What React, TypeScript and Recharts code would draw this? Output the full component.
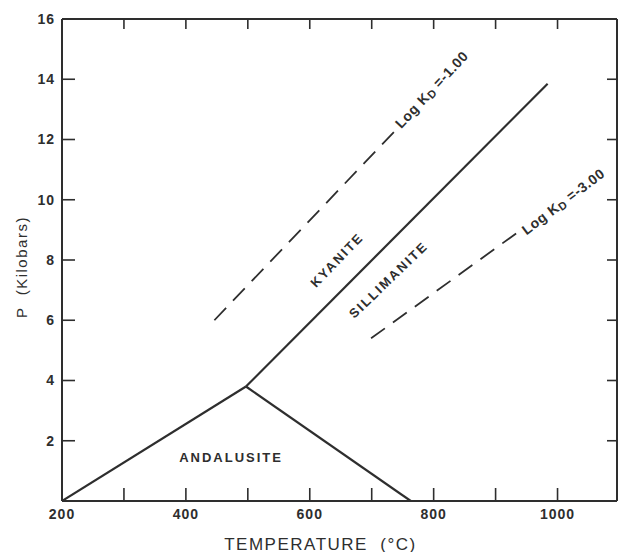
// Diagramme de phases Al2SiO5 (andalousite / disthène / sillimanite) avec isolignes Log KD.
import { LineChart, Line, XAxis, YAxis, ReferenceDot, Label } from 'recharts';

// Frontières des champs de stabilité : T en °C, P en kilobars
const andKyT = [200, 497];
const andKyP = [0, 3.8];
const andSilT = [497, 763];
const andSilP = [3.8, 0];
const kySilT = [497, 984];
const kySilP = [3.8, 13.85];

// Isolignes en tirets
const kd1T = [446, 736];
const kd1P = [6.0, 12.25];
const kd3T = [699, 941];
const kd3P = [5.4, 9.0];

// Axes
const xDomain = [200, 1096];
const bottomTicks = [200, 300, 400, 500, 600, 700, 800, 900, 1000];
const xLabelTicks = [200, 400, 600, 800, 1000];
const topTicks = [300, 400, 500, 600, 700, 800, 900, 1000];
const leftTicks = [2, 4, 6, 8, 10, 12, 14, 16];
const rightTicks = [2, 4, 6, 8, 10, 12, 14];

// Étiquettes de champs et d'isolignes (coordonnées T / P)
const fieldNames = ['KYANITE', 'SILLIMANITE', 'ANDALUSITE'];
const fieldT = [644, 727, 473];
const fieldP = [8.0, 7.34, 1.43];
const fieldAngle = [-46, -44, 0];
const kdValues = ['-1.00', '-3.00'];
const kdT = [742, 945];
const kdP = [12.45, 8.95];
const kdAngle = [-47, -37];

const INK = '#2e2e2e';
const FONT = '"Liberation Sans", Arial, sans-serif';

const toPoints = (ts: number[], ps: number[]) => ts.map((t, i) => ({ t, p: ps[i] }));

const solidLines = [
  toPoints(andKyT, andKyP),
  toPoints(andSilT, andSilP),
  toPoints(kySilT, kySilP),
];
const dashedLines = [toPoints(kd1T, kd1P), toPoints(kd3T, kd3P)];

function FieldText(props: any) {
  const { cx, cy, text, angle } = props;
  return (
    <text
      x={cx}
      y={cy}
      transform={`rotate(${angle} ${cx} ${cy})`}
      textAnchor="middle"
      dominantBaseline="central"
      fontFamily={FONT}
      fontWeight="bold"
      fontSize={13}
      letterSpacing={2}
      fill={INK}
    >
      {text}
    </text>
  );
}

function KdText(props: any) {
  const { cx, cy, value, angle } = props;
  return (
    <text
      x={cx}
      y={cy}
      transform={`rotate(${angle} ${cx} ${cy})`}
      textAnchor="start"
      dominantBaseline="central"
      fontFamily={FONT}
      fontSize={14}
      fontWeight="bold"
      letterSpacing={0.6}
      fill={INK}
      style={{ whiteSpace: 'pre' }}
    >
      Log K
      <tspan dy={3} fontSize={11}>D</tspan>
      <tspan dy={-3}>{` =${value}`}</tspan>
    </text>
  );
}

const tickStyle = { fontSize: 14, fill: INK, fontFamily: FONT, fontWeight: 'bold', letterSpacing: 1 };
const axisLine = { stroke: INK, strokeWidth: 2 };
const tickLine = { stroke: INK, strokeWidth: 1.6 };

export default function App() {
  return (
    <div style={{ position: 'absolute', left: 0, top: 0, width: 618, height: 552, background: '#fff' }}>
      <LineChart width={618} height={552} margin={{ top: 18, right: 0, bottom: 0, left: 0 }}>
        <XAxis
          xAxisId="b"
          type="number"
          dataKey="t"
          domain={xDomain}
          ticks={bottomTicks}
          tickFormatter={(v) => (xLabelTicks.includes(v) ? String(v) : '')}
          height={51}
          tickSize={-13}
          tickMargin={21}
          tick={tickStyle}
          axisLine={axisLine}
          tickLine={tickLine}
          allowDataOverflow
        >
          <Label
            content={(p: any) => {
              const vb = p.viewBox;
              const cx = vb.x + vb.width / 2 - 19;
              return (
                <text
                  x={cx}
                  y={vb.y + 43}
                  textAnchor="middle"
                  dominantBaseline="central"
                  fontFamily={FONT}
                  fontSize={17}
                  letterSpacing={1.5}
                  fill={INK}
                  style={{ whiteSpace: 'pre' }}
                >
                  TEMPERATURE  (°C)
                </text>
              );
            }}
          />
        </XAxis>
        <XAxis
          xAxisId="t"
          orientation="top"
          type="number"
          dataKey="t"
          domain={xDomain}
          ticks={topTicks}
          tickFormatter={() => ''}
          height={1}
          tickSize={-10}
          axisLine={axisLine}
          tickLine={tickLine}
          allowDataOverflow
        />
        <YAxis
          yAxisId="l"
          type="number"
          dataKey="p"
          domain={[0, 16]}
          ticks={leftTicks}
          width={62}
          tickSize={-13}
          tickMargin={20}
          tick={tickStyle}
          axisLine={axisLine}
          tickLine={tickLine}
          allowDataOverflow
        >
          <Label
            content={(p: any) => {
              const vb = p.viewBox;
              const cx = vb.x + 21;
              const cy = vb.y + vb.height / 2 + 7;
              return (
                <text
                  x={cx}
                  y={cy}
                  transform={`rotate(-90 ${cx} ${cy})`}
                  textAnchor="middle"
                  dominantBaseline="central"
                  fontFamily={FONT}
                  fontSize={15}
                  letterSpacing={1.5}
                  fill={INK}
                  style={{ whiteSpace: 'pre' }}
                >
                  P  (Kilobars)
                </text>
              );
            }}
          />
        </YAxis>
        <YAxis
          yAxisId="r"
          orientation="right"
          type="number"
          dataKey="p"
          domain={[0, 16]}
          ticks={rightTicks}
          tickFormatter={() => ''}
          width={1}
          tickSize={-10}
          axisLine={axisLine}
          tickLine={tickLine}
          allowDataOverflow
        />

        {solidLines.map((d, i) => (
          <Line
            key={`s${i}`}
            xAxisId="b"
            yAxisId="l"
            data={d}
            dataKey="p"
            type="linear"
            stroke={INK}
            strokeWidth={2.2}
            dot={false}
            activeDot={false}
            isAnimationActive={false}
          />
        ))}
        {dashedLines.map((d, i) => (
          <Line
            key={`d${i}`}
            xAxisId="t"
            yAxisId="r"
            data={d}
            dataKey="p"
            type="linear"
            stroke={INK}
            strokeWidth={1.8}
            strokeDasharray="17 10"
            dot={false}
            activeDot={false}
            isAnimationActive={false}
          />
        ))}

        {fieldNames.map((name, i) => (
          <ReferenceDot
            key={name}
            xAxisId="b"
            yAxisId="l"
            x={fieldT[i]}
            y={fieldP[i]}
            r={0}
            shape={(p: any) => <FieldText cx={p.cx} cy={p.cy} text={name} angle={fieldAngle[i]} />}
          />
        ))}
        {kdValues.map((v, i) => (
          <ReferenceDot
            key={v}
            xAxisId="b"
            yAxisId="l"
            x={kdT[i]}
            y={kdP[i]}
            r={0}
            shape={(p: any) => <KdText cx={p.cx} cy={p.cy} value={v} angle={kdAngle[i]} />}
          />
        ))}
      </LineChart>
    </div>
  );
}
